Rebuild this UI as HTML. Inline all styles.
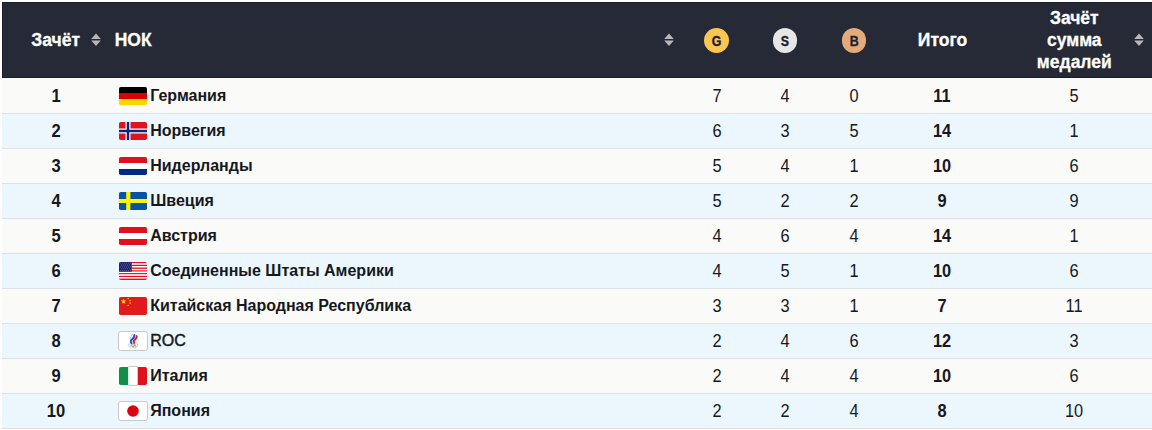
<!DOCTYPE html><html><head><meta charset="utf-8"><style>
*{margin:0;padding:0;box-sizing:border-box}
html,body{width:1152px;height:430px;overflow:hidden;background:#fff}
body{position:relative;font-family:"Liberation Sans",sans-serif;color:#16181d}
.hdr{position:absolute;left:2px;top:2px;width:1150px;height:76px;background:#252a36;border:1px solid #1b1f2a;border-right:none}
.h{position:absolute;color:#fff;-webkit-text-stroke:0.3px #fff;font-weight:700;font-size:17.5px;line-height:21.3px;white-space:nowrap}
.hc{width:120px;text-align:center}
.med span{display:inline-block;transform:scaleX(0.86);-webkit-text-stroke:0.35px #1c2030}
.si{position:absolute}
.med{position:absolute;width:24.8px;height:24.8px;border-radius:50%;font-weight:700;font-size:14.4px;line-height:27px;text-align:center;color:#1c2030}
.row{position:absolute;left:2px;width:1150px;border-bottom:1px solid #dde1e6}
.c{position:absolute;width:120px;text-align:center;font-size:16px;line-height:18px;white-space:nowrap}
.b{font-weight:700}
.d{font-size:17.6px;transform:scaleX(0.93)}
.rk{font-weight:700;transform:scaleX(0.94)}
.n{position:absolute;left:150.2px;font-size:16px;font-weight:700;line-height:18px;white-space:nowrap}
.flag{position:absolute;left:118px;display:block}
</style></head><body>
<div class="hdr"></div>
<div class="h hc" style="left:-4.3px;top:30.09px">Зачёт</div>
<svg class="si" style="left:91px;top:33px" width="10" height="14" viewBox="0 0 10 14"><path d="M5 0.5 L9.8 5.9 L0.2 5.9Z M0.2 7.6 L9.8 7.6 L5 13.1Z" fill="#b6b7ba"/></svg>
<div class="h" style="left:114.7px;top:30.09px">НОК</div>
<svg class="si" style="left:664px;top:33px" width="10" height="14" viewBox="0 0 10 14"><path d="M5 0.5 L9.8 5.9 L0.2 5.9Z M0.2 7.6 L9.8 7.6 L5 13.1Z" fill="#b6b7ba"/></svg>
<div class="med" style="left:703.9px;top:28.1px;background:#fbc64f"><span>G</span></div>
<div class="med" style="left:772.6px;top:28.1px;background:#e6e6e6"><span>S</span></div>
<div class="med" style="left:841.5px;top:28.1px;background:#e5aa7b"><span>B</span></div>
<div class="h hc" style="left:882.5px;top:30.09px">Итого</div>
<div class="h hc" style="left:1014.3px;top:7.24px;line-height:22px">Зачёт<br>сумма<br>медалей</div>
<svg class="si" style="left:1134px;top:33px" width="10" height="14" viewBox="0 0 10 14"><path d="M5 0.5 L9.8 5.9 L0.2 5.9Z M0.2 7.6 L9.8 7.6 L5 13.1Z" fill="#b6b7ba"/></svg>
<div class="row" style="top:78px;height:36px;background:#fafaf8"></div>
<div class="c d rk" style="left:-4.1px;top:87.4px">1</div>
<div style="position:absolute;left:0;top:86px"><svg class="flag" style="top:0" width="30" height="20" viewBox="-1 -1 30 20"><defs><clipPath id="cde"><rect width="28" height="18" rx="1.8"/></clipPath></defs><g clip-path="url(#cde)"><rect width="28" height="6" fill="#000"/><rect y="6" width="28" height="6" fill="#dd0000"/><rect y="12" width="28" height="6" fill="#ffd500"/></g></svg></div>
<div class="n" style="top:87.25px">Германия</div>
<div class="c d" style="left:656.5px;top:87.4px">7</div>
<div class="c d" style="left:725.3px;top:87.4px">4</div>
<div class="c d" style="left:793.8px;top:87.4px">0</div>
<div class="c b d" style="left:882.0px;top:87.4px">11</div>
<div class="c d" style="left:1014.3px;top:87.4px">5</div>
<div class="row" style="top:114px;height:35px;background:#ebf6fd"></div>
<div class="c d rk" style="left:-4.1px;top:122.4px">2</div>
<div style="position:absolute;left:0;top:121px"><svg class="flag" style="top:0" width="30" height="20" viewBox="-1 -1 30 20"><defs><clipPath id="cno"><rect width="28" height="18" rx="1.8"/></clipPath></defs><g clip-path="url(#cno)"><rect width="28" height="18" fill="#dd1420"/><rect x="6.5" width="5" height="18" fill="#fff"/><rect y="6.5" width="28" height="5" fill="#fff"/><rect x="7.75" width="2.5" height="18" fill="#062685"/><rect y="7.75" width="28" height="2.5" fill="#062685"/></g></svg></div>
<div class="n" style="top:122.25px">Норвегия</div>
<div class="c d" style="left:656.5px;top:122.4px">6</div>
<div class="c d" style="left:725.3px;top:122.4px">3</div>
<div class="c d" style="left:793.8px;top:122.4px">5</div>
<div class="c b d" style="left:882.0px;top:122.4px">14</div>
<div class="c d" style="left:1014.3px;top:122.4px">1</div>
<div class="row" style="top:149px;height:35px;background:#fafaf8"></div>
<div class="c d rk" style="left:-4.1px;top:157.4px">3</div>
<div style="position:absolute;left:0;top:156px"><svg class="flag" style="top:0" width="30" height="20" viewBox="-1 -1 30 20"><defs><clipPath id="cnl"><rect width="28" height="18" rx="1.8"/></clipPath></defs><g clip-path="url(#cnl)"><rect width="28" height="6" fill="#e0111c"/><rect y="6" width="28" height="6" fill="#fff"/><rect y="12" width="28" height="6" fill="#012a87"/></g></svg></div>
<div class="n" style="top:157.25px">Нидерланды</div>
<div class="c d" style="left:656.5px;top:157.4px">5</div>
<div class="c d" style="left:725.3px;top:157.4px">4</div>
<div class="c d" style="left:793.8px;top:157.4px">1</div>
<div class="c b d" style="left:882.0px;top:157.4px">10</div>
<div class="c d" style="left:1014.3px;top:157.4px">6</div>
<div class="row" style="top:184px;height:35px;background:#ebf6fd"></div>
<div class="c d rk" style="left:-4.1px;top:192.4px">4</div>
<div style="position:absolute;left:0;top:191px"><svg class="flag" style="top:0" width="30" height="20" viewBox="-1 -1 30 20"><defs><clipPath id="cse"><rect width="28" height="18" rx="1.8"/></clipPath></defs><g clip-path="url(#cse)"><rect width="28" height="18" fill="#0652a5"/><rect x="7.2" width="4.2" height="18" fill="#fff200"/><rect y="7" width="28" height="4" fill="#fff200"/></g></svg></div>
<div class="n" style="top:192.25px">Швеция</div>
<div class="c d" style="left:656.5px;top:192.4px">5</div>
<div class="c d" style="left:725.3px;top:192.4px">2</div>
<div class="c d" style="left:793.8px;top:192.4px">2</div>
<div class="c b d" style="left:882.0px;top:192.4px">9</div>
<div class="c d" style="left:1014.3px;top:192.4px">9</div>
<div class="row" style="top:219px;height:35px;background:#fafaf8"></div>
<div class="c d rk" style="left:-4.1px;top:227.4px">5</div>
<div style="position:absolute;left:0;top:226px"><svg class="flag" style="top:0" width="30" height="20" viewBox="-1 -1 30 20"><defs><clipPath id="cat"><rect width="28" height="18" rx="1.8"/></clipPath></defs><g clip-path="url(#cat)"><rect width="28" height="6" fill="#e0111c"/><rect y="6" width="28" height="6" fill="#fff"/><rect y="12" width="28" height="6" fill="#e0111c"/></g></svg></div>
<div class="n" style="top:227.25px">Австрия</div>
<div class="c d" style="left:656.5px;top:227.4px">4</div>
<div class="c d" style="left:725.3px;top:227.4px">6</div>
<div class="c d" style="left:793.8px;top:227.4px">4</div>
<div class="c b d" style="left:882.0px;top:227.4px">14</div>
<div class="c d" style="left:1014.3px;top:227.4px">1</div>
<div class="row" style="top:254px;height:35px;background:#ebf6fd"></div>
<div class="c d rk" style="left:-4.1px;top:262.4px">6</div>
<div style="position:absolute;left:0;top:261px"><svg class="flag" style="top:0" width="30" height="20" viewBox="-1 -1 30 20"><defs><clipPath id="cus"><rect width="28" height="18" rx="1.8"/></clipPath></defs><g clip-path="url(#cus)"><rect y="0.000" width="28" height="1.385" fill="#e01020"/><rect y="1.385" width="28" height="1.385" fill="#fff"/><rect y="2.769" width="28" height="1.385" fill="#e01020"/><rect y="4.154" width="28" height="1.385" fill="#fff"/><rect y="5.538" width="28" height="1.385" fill="#e01020"/><rect y="6.923" width="28" height="1.385" fill="#fff"/><rect y="8.308" width="28" height="1.385" fill="#e01020"/><rect y="9.692" width="28" height="1.385" fill="#fff"/><rect y="11.077" width="28" height="1.385" fill="#e01020"/><rect y="12.462" width="28" height="1.385" fill="#fff"/><rect y="13.846" width="28" height="1.385" fill="#e01020"/><rect y="15.231" width="28" height="1.385" fill="#fff"/><rect y="16.615" width="28" height="1.385" fill="#e01020"/><rect width="12.8" height="9.7" fill="#22236f"/><circle cx="1.20" cy="1.10" r="0.4" fill="#b8b8d8"/><circle cx="3.30" cy="1.10" r="0.4" fill="#b8b8d8"/><circle cx="5.40" cy="1.10" r="0.4" fill="#b8b8d8"/><circle cx="7.50" cy="1.10" r="0.4" fill="#b8b8d8"/><circle cx="9.60" cy="1.10" r="0.4" fill="#b8b8d8"/><circle cx="11.70" cy="1.10" r="0.4" fill="#b8b8d8"/><circle cx="2.20" cy="3.00" r="0.4" fill="#b8b8d8"/><circle cx="4.30" cy="3.00" r="0.4" fill="#b8b8d8"/><circle cx="6.40" cy="3.00" r="0.4" fill="#b8b8d8"/><circle cx="8.50" cy="3.00" r="0.4" fill="#b8b8d8"/><circle cx="10.60" cy="3.00" r="0.4" fill="#b8b8d8"/><circle cx="12.70" cy="3.00" r="0.4" fill="#b8b8d8"/><circle cx="1.20" cy="4.90" r="0.4" fill="#b8b8d8"/><circle cx="3.30" cy="4.90" r="0.4" fill="#b8b8d8"/><circle cx="5.40" cy="4.90" r="0.4" fill="#b8b8d8"/><circle cx="7.50" cy="4.90" r="0.4" fill="#b8b8d8"/><circle cx="9.60" cy="4.90" r="0.4" fill="#b8b8d8"/><circle cx="11.70" cy="4.90" r="0.4" fill="#b8b8d8"/><circle cx="2.20" cy="6.80" r="0.4" fill="#b8b8d8"/><circle cx="4.30" cy="6.80" r="0.4" fill="#b8b8d8"/><circle cx="6.40" cy="6.80" r="0.4" fill="#b8b8d8"/><circle cx="8.50" cy="6.80" r="0.4" fill="#b8b8d8"/><circle cx="10.60" cy="6.80" r="0.4" fill="#b8b8d8"/><circle cx="12.70" cy="6.80" r="0.4" fill="#b8b8d8"/><circle cx="1.20" cy="8.70" r="0.4" fill="#b8b8d8"/><circle cx="3.30" cy="8.70" r="0.4" fill="#b8b8d8"/><circle cx="5.40" cy="8.70" r="0.4" fill="#b8b8d8"/><circle cx="7.50" cy="8.70" r="0.4" fill="#b8b8d8"/><circle cx="9.60" cy="8.70" r="0.4" fill="#b8b8d8"/><circle cx="11.70" cy="8.70" r="0.4" fill="#b8b8d8"/></g></svg></div>
<div class="n" style="top:262.25px">Соединенные Штаты Америки</div>
<div class="c d" style="left:656.5px;top:262.4px">4</div>
<div class="c d" style="left:725.3px;top:262.4px">5</div>
<div class="c d" style="left:793.8px;top:262.4px">1</div>
<div class="c b d" style="left:882.0px;top:262.4px">10</div>
<div class="c d" style="left:1014.3px;top:262.4px">6</div>
<div class="row" style="top:289px;height:35px;background:#fafaf8"></div>
<div class="c d rk" style="left:-4.1px;top:297.4px">7</div>
<div style="position:absolute;left:0;top:296px"><svg class="flag" style="top:0" width="30" height="20" viewBox="-1 -1 30 20"><defs><clipPath id="ccn"><rect width="28" height="18" rx="1.8"/></clipPath></defs><g clip-path="url(#ccn)"><rect width="28" height="18" fill="#df1b1b"/><polygon points="4.60,1.60 5.28,3.56 7.36,3.60 5.70,4.86 6.30,6.85 4.60,5.66 2.90,6.85 3.50,4.86 1.84,3.60 3.92,3.56" fill="#ffe000"/><polygon points="9.20,0.50 9.46,1.24 10.25,1.26 9.62,1.74 9.85,2.49 9.20,2.04 8.55,2.49 8.78,1.74 8.15,1.26 8.94,1.24" fill="#ffe000"/><polygon points="11.10,2.40 11.36,3.14 12.15,3.16 11.52,3.64 11.75,4.39 11.10,3.94 10.45,4.39 10.68,3.64 10.05,3.16 10.84,3.14" fill="#ffe000"/><polygon points="11.10,5.10 11.36,5.84 12.15,5.86 11.52,6.34 11.75,7.09 11.10,6.64 10.45,7.09 10.68,6.34 10.05,5.86 10.84,5.84" fill="#ffe000"/><polygon points="9.20,7.20 9.46,7.94 10.25,7.96 9.62,8.44 9.85,9.19 9.20,8.74 8.55,9.19 8.78,8.44 8.15,7.96 8.94,7.94" fill="#ffe000"/></g></svg></div>
<div class="n" style="top:297.25px">Китайская Народная Республика</div>
<div class="c d" style="left:656.5px;top:297.4px">3</div>
<div class="c d" style="left:725.3px;top:297.4px">3</div>
<div class="c d" style="left:793.8px;top:297.4px">1</div>
<div class="c b d" style="left:882.0px;top:297.4px">7</div>
<div class="c d" style="left:1014.3px;top:297.4px">11</div>
<div class="row" style="top:324px;height:35px;background:#ebf6fd"></div>
<div class="c d rk" style="left:-4.1px;top:332.4px">8</div>
<div style="position:absolute;left:0;top:331px"><svg class="flag" style="top:0" width="30" height="20" viewBox="-1 -1 30 20"><defs><clipPath id="croc"><rect width="28" height="18" rx="1.8"/></clipPath></defs><g clip-path="url(#croc)"><rect width="28" height="18" fill="#fff"/><g fill="none" stroke-linecap="round"><path d="M11.3 8.2 C10.8 6.2 12 4.2 13.4 2.2" stroke="#c9cdf2" stroke-width="1.3"/><path d="M12.4 11 C11.2 9.8 11.8 8.4 13.2 7.2 C14.6 6 15.6 4.8 15.4 3" stroke="#2648c4" stroke-width="1.9"/><path d="M15.2 10.9 C14.2 9.8 14.8 8.6 16 7.5 C17.2 6.4 18.2 5.4 17.6 4.1" stroke="#d5211d" stroke-width="1.9"/></g><g fill="none" stroke-width="0.55"><circle cx="10.7" cy="13.2" r="1.5" stroke="#8cc4ee"/><circle cx="14" cy="13.2" r="1.5" stroke="#555"/><circle cx="17.3" cy="13.2" r="1.5" stroke="#ee8090"/><circle cx="12.35" cy="14.6" r="1.5" stroke="#f2cc60"/><circle cx="15.65" cy="14.6" r="1.5" stroke="#60b080"/></g></g><rect x="-0.5" y="-0.5" width="29" height="19" rx="2.2" fill="none" stroke="#c9c9c9" stroke-width="1"/></svg></div>
<div class="n" style="top:332.25px;font-weight:400;-webkit-text-stroke:0.45px #16181d">ROC</div>
<div class="c d" style="left:656.5px;top:332.4px">2</div>
<div class="c d" style="left:725.3px;top:332.4px">4</div>
<div class="c d" style="left:793.8px;top:332.4px">6</div>
<div class="c b d" style="left:882.0px;top:332.4px">12</div>
<div class="c d" style="left:1014.3px;top:332.4px">3</div>
<div class="row" style="top:359px;height:35px;background:#fafaf8"></div>
<div class="c d rk" style="left:-4.1px;top:367.4px">9</div>
<div style="position:absolute;left:0;top:366px"><svg class="flag" style="top:0" width="30" height="20" viewBox="-1 -1 30 20"><defs><clipPath id="cit"><rect width="28" height="18" rx="1.8"/></clipPath></defs><g clip-path="url(#cit)"><rect width="9.4" height="18" fill="#0f8f48"/><rect x="9.4" width="9.3" height="18" fill="#fff"/><rect x="18.7" width="9.3" height="18" fill="#e0111c"/></g><path d="M9.4 -0.5 H18.7 M9.4 18.5 H18.7" stroke="#c9c9c9" stroke-width="1"/></svg></div>
<div class="n" style="top:367.25px">Италия</div>
<div class="c d" style="left:656.5px;top:367.4px">2</div>
<div class="c d" style="left:725.3px;top:367.4px">4</div>
<div class="c d" style="left:793.8px;top:367.4px">4</div>
<div class="c b d" style="left:882.0px;top:367.4px">10</div>
<div class="c d" style="left:1014.3px;top:367.4px">6</div>
<div class="row" style="top:394px;height:35px;background:#ebf6fd"></div>
<div class="c d rk" style="left:-4.1px;top:402.4px">10</div>
<div style="position:absolute;left:0;top:401px"><svg class="flag" style="top:0" width="30" height="20" viewBox="-1 -1 30 20"><defs><clipPath id="cjp"><rect width="28" height="18" rx="1.8"/></clipPath></defs><g clip-path="url(#cjp)"><rect width="28" height="18" fill="#fff"/><circle cx="14" cy="9" r="5.8" fill="#dd0010"/></g><rect x="-0.5" y="-0.5" width="29" height="19" rx="2.2" fill="none" stroke="#c9c9c9" stroke-width="1"/></svg></div>
<div class="n" style="top:402.25px">Япония</div>
<div class="c d" style="left:656.5px;top:402.4px">2</div>
<div class="c d" style="left:725.3px;top:402.4px">2</div>
<div class="c d" style="left:793.8px;top:402.4px">4</div>
<div class="c b d" style="left:882.0px;top:402.4px">8</div>
<div class="c d" style="left:1014.3px;top:402.4px">10</div>
</body></html>
